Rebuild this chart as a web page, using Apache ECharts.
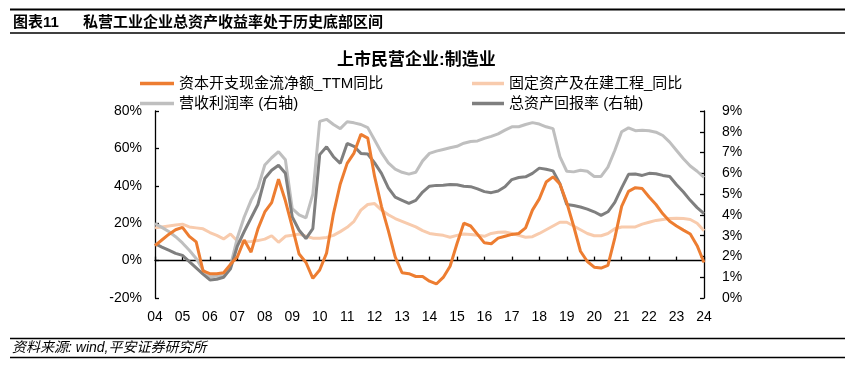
<!DOCTYPE html>
<html><head><meta charset="utf-8">
<script src="https://cdn.jsdelivr.net/npm/echarts@6/dist/echarts.min.js"></script>
<style>html,body{margin:0;padding:0;background:#fff}#c{width:856px;height:371px}</style>
</head><body><div id="c"></div>
<script>
// ---- data ----
const years = ['04','05','06','07','08','09','10','11','12','13','14','15','16','17','18','19','20','21','22','23','24'];
const seriesNames = ['资本开支现金流净额_TTM同比','固定资产及在建工程_同比','营收利润率 (右轴)','总资产回报率 (右轴)'];
const leftTicks = [-20, 0, 20, 40, 60, 80];
const rightTicks = [0,1,2,3,4,5,6,7,8,9];
// 资本开支现金流净额_TTM同比 (%) left axis, quarterly 2004Q1..2024Q1
const capexYoY = [8,11,14,16.5,17.8,13,10,-5.5,-7,-7,
  -6.5,-2,2,11,4.5,17,26,31,43.5,32,
  18,3.5,-1,-9.5,-5,4,25,41,52,57.5,
  67.5,65.5,45,29,16,2,-6.5,-7,-8.5,-8.5,
  -11,-12.5,-9,-3,9,20,18.5,14,9.5,9,
  12,13,14,14.5,17.5,27,33,42,44.8,41,
  31,18.5,5,-0.5,-3.5,-4,-2.5,12,29,37,
  39,38.5,34,30,25,21,18.5,16.3,14.2,8,
  -1];
// 固定资产及在建工程_同比 (%) left axis
const fixedAssetYoY = [17.5,18,18.5,19,19.5,18,17.5,17,15,13.5,
  11.6,14.2,10.5,10,10.2,10.7,11.5,13.3,9.8,13,
  13.5,14.2,13,12,12,12.4,13.5,15.5,17.8,21,
  27,30,30.5,27,24.5,22.5,21,19.5,18,16,
  14.5,14,13.5,12.5,13.5,14.2,14,13.5,13,14.5,
  15.2,15.3,14.5,13.5,12.5,12.8,14.5,16.5,18.5,20.5,
  20.5,18.5,16.5,14.5,13.3,13.3,14.5,17,18,18,
  18,19.5,20.5,21.5,22,22.5,22.6,22.5,22,20,
  16];
// 营收利润率 (%) right axis
const profitMargin = [3.58,3.4,3.2,2.95,2.65,2.3,1.9,1.35,1.02,1.05,
  1.1,1.55,2.9,3.9,4.7,5.3,6.4,6.75,7.04,6.65,
  4.3,4.0,3.86,5.0,8.5,8.6,8.35,8.15,8.48,8.43,
  8.35,8.2,7.6,7.0,6.5,6.2,6.05,5.96,6.05,6.6,
  6.96,7.07,7.15,7.23,7.3,7.45,7.53,7.56,7.68,7.78,
  7.9,8.08,8.24,8.24,8.35,8.44,8.37,8.24,8.15,6.8,
  6.1,6.07,6.15,6.1,5.85,5.85,6.3,7.1,8.0,8.19,
  8.05,8.07,8.05,7.98,7.82,7.5,7.1,6.7,6.35,6.1,
  5.8];
// 总资产回报率 (%) right axis
const roa = [2.62,2.45,2.3,2.15,2.05,1.75,1.45,1.15,0.87,0.9,
  1.0,1.4,2.5,3.2,3.85,4.5,5.75,6.15,6.39,6.0,
  3.9,3.26,2.86,3.34,6.9,7.28,6.8,6.48,7.44,7.3,
  6.96,6.93,6.5,6.0,5.3,4.85,4.7,4.55,4.7,5.1,
  5.38,5.42,5.43,5.46,5.45,5.38,5.36,5.25,5.12,5.07,
  5.15,5.35,5.7,5.8,5.83,6.0,6.25,6.2,6.12,5.5,
  4.5,4.45,4.38,4.28,4.15,3.98,4.15,4.6,5.3,5.95,
  5.97,5.9,6.0,5.98,5.9,5.85,5.45,5.1,4.7,4.35,
  4.06];

// ---- build ----
const FONT = '"Liberation Sans", Arial, "Noto Sans CJK SC", sans-serif';
const categories = [];
years.forEach((y, i) => {
  const n = i === years.length - 1 ? 1 : 4;
  for (let q = 1; q <= n; q++) categories.push(y + 'Q' + q);
});
const colors = ['#ED7D31', '#F8CBAD', '#BFBFBF', '#7F7F7F'];
const values = [capexYoY, fixedAssetYoY, profitMargin, roa];
const yIdx = [0, 0, 1, 1];

function legendAt(i, left, top, w) {
  return {
    data: [seriesNames[i]], left: left, top: top, padding: 0,
    icon: 'rect', itemWidth: w, itemHeight: 3.5,
    textStyle: { fontFamily: FONT, fontSize: 15, color: '#000' }
  };
}

const chart = echarts.init(document.getElementById('c'), null, { renderer: 'canvas' });
const drawOrder = [1, 2, 3, 0];
chart.setOption({
  animation: false,
  backgroundColor: '#fff',
  title: [
    { text: '图表11', left: 13, top: 15, padding: 0, textStyle: { fontFamily: FONT, fontSize: 15, fontWeight: 'bold', color: '#000' } },
    { text: '私营工业企业总资产收益率处于历史底部区间', left: 83, top: 15, padding: 0, textStyle: { fontFamily: FONT, fontSize: 15, fontWeight: 'bold', color: '#000' } },
    { text: '上市民营企业:制造业', left: 337, top: 52, padding: 0, textStyle: { fontFamily: FONT, fontSize: 17, fontWeight: 'bold', color: '#000' } },
    { text: '资料来源: wind,平安证券研究所', left: 12, top: 341, padding: 0, textStyle: { fontFamily: FONT, fontSize: 14, fontStyle: 'italic', fontWeight: 'normal', color: '#000' } }
  ],
  legend: [
    legendAt(0, 140, 76, 34),
    legendAt(1, 472, 76, 32),
    legendAt(2, 140, 96, 34),
    legendAt(3, 472, 96, 32)
  ],
  graphic: [
    { type: 'line', shape: { x1: 10, y1: 9.5, x2: 845, y2: 9.5 }, style: { stroke: '#000', lineWidth: 2 } },
    { type: 'line', shape: { x1: 10, y1: 33, x2: 845, y2: 33 }, style: { stroke: '#000', lineWidth: 1.5 } },
    { type: 'line', shape: { x1: 10, y1: 338.5, x2: 845, y2: 338.5 }, style: { stroke: '#000', lineWidth: 1.5 } },
    { type: 'line', shape: { x1: 10, y1: 357.5, x2: 845, y2: 357.5 }, style: { stroke: '#000', lineWidth: 1.5 } }
  ],
  grid: { left: 155, right: 152, top: 111, bottom: 73, containLabel: false },
  xAxis: {
    type: 'category', data: categories, boundaryGap: false,
    axisLine: { onZero: true, lineStyle: { color: '#000', width: 1.3 } },
    axisTick: { show: true, inside: true, length: 4, interval: 3, lineStyle: { color: '#000', width: 1.3 } },
    axisLabel: { interval: 3, margin: 12, fontFamily: FONT, fontSize: 14, color: '#000', formatter: v => v.slice(0, 2) },
    splitLine: { show: false }
  },
  yAxis: [
    {
      type: 'value', min: leftTicks[0], max: leftTicks[leftTicks.length - 1], interval: 20,
      axisLine: { show: true, lineStyle: { color: '#000', width: 1.3 } },
      axisTick: { show: true, inside: true, length: 4, lineStyle: { color: '#000', width: 1.3 } },
      axisLabel: { margin: 13, fontFamily: FONT, fontSize: 14, color: '#000', formatter: v => v + '%' },
      splitLine: { show: false }
    },
    {
      type: 'value', position: 'right', min: rightTicks[0], max: rightTicks[rightTicks.length - 1], interval: 1,
      axisLine: { show: true, lineStyle: { color: '#000', width: 1.3 } },
      axisTick: { show: true, inside: true, length: 4, lineStyle: { color: '#000', width: 1.3 } },
      axisLabel: { margin: 18, fontFamily: FONT, fontSize: 14, color: '#000', formatter: v => v + '%' },
      splitLine: { show: false }
    }
  ],
  series: drawOrder.map(i => ({
    name: seriesNames[i], type: 'line', yAxisIndex: yIdx[i], data: values[i],
    symbol: 'none', smooth: false, color: colors[i],
    lineStyle: { color: colors[i], width: 3 }
  }))
});
</script>
</body></html>
